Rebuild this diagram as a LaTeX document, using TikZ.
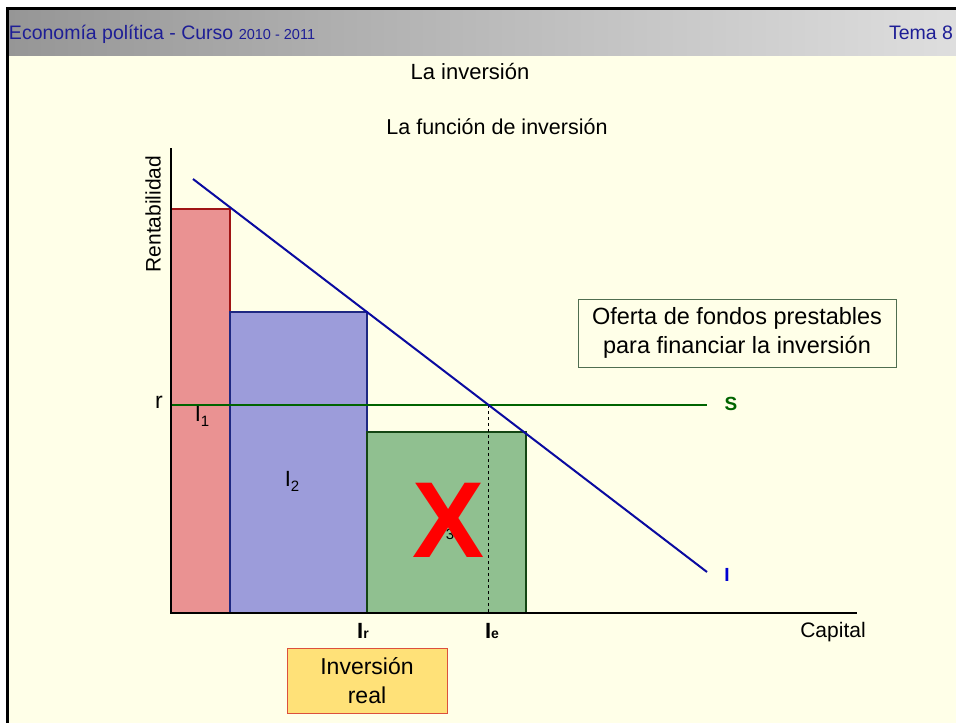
\documentclass[tikz,border=0pt]{standalone}
\usepackage{fontspec}
\setmainfont{Liberation Sans}
\definecolor{bg}{RGB}{255,255,232}
\definecolor{hdrblue}{RGB}{30,30,150}
\definecolor{iblue}{RGB}{10,10,160}
\definecolor{ilabel}{RGB}{0,0,210}
\definecolor{sgreen}{RGB}{0,100,0}
\definecolor{redfill}{RGB}{234,146,146}
\definecolor{redline}{RGB}{160,20,20}
\definecolor{bluefill}{RGB}{156,156,218}
\definecolor{blueline}{RGB}{30,40,130}
\definecolor{greenfill}{RGB}{144,192,144}
\definecolor{greenline}{RGB}{20,70,20}
\definecolor{boxfill}{RGB}{255,225,120}
\definecolor{boxline}{RGB}{220,80,60}
\definecolor{oferline}{RGB}{80,110,80}
\newcommand\fsz[1]{\fontsize{#1}{#1}\selectfont}
\newcommand\subsc[1]{\raisebox{-5pt}{\fsz{15}#1}}
\begin{document}
\begin{tikzpicture}[x=1pt,y=-1pt,
  txt/.style={inner sep=0pt, outer sep=0pt},
  barbox/.style={line width=1.2pt},
  axisline/.style={line width=1.1pt, black},
  lbl/.style={inner sep=0pt, font=\fsz{21}}]
\useasboundingbox (0,0) rectangle (956,723);
% page
\fill[white] (0,0) rectangle (956,723);
\fill[bg] (8,55) rectangle (956,723);
\shade[left color={rgb,255:red,150;green,150;blue,150}, middle color={rgb,255:red,205;green,205;blue,205}, right color={rgb,255:red,222;green,222;blue,222}] (8,9) rectangle (956,55);
\draw[line width=3pt, black] (956,8) -- (7.5,8) -- (7.5,723);
% header
\node[txt, anchor=base west, text=hdrblue] (hdr) at (9,39) {\fsz{19.5}Economía política - Curso \fsz{14.5}2010 - 2011};
\node[txt, anchor=base east, text=hdrblue] (tema) at (953,39) {\fsz{19.5}Tema 8};
% titles
\node[txt] (title) at (470,72) {\fsz{22}La inversión};
\node[txt] (subtitle) at (497,127) {\fsz{21.5}La función de inversión};
% coordinates
\coordinate (O) at (171,613);
\coordinate (ytop) at (171,148);
\coordinate (xend) at (857,613);
% bars
\draw[barbox, fill=redfill, draw=redline] (171,613) rectangle (230,209);
\draw[barbox, fill=bluefill, draw=blueline] (230,613) rectangle (367,312);
\draw[barbox, fill=greenfill, draw=greenline] (367,613) rectangle (526,432);
% S line
\coordinate (s0) at (171,405);
\coordinate (s1) at (707,405);
\draw[sgreen, line width=2pt] (s0) -- (s1);
% dashed
\coordinate (e0) at (488.5,405);
\coordinate (e1) at (488.5,613);
\draw[dashed, line width=0.8pt] (e0) -- (e1);
% I line
\coordinate (i0) at (193,179);
\coordinate (i1) at (707,572);
\draw[iblue, line width=2pt] (i0) -- (i1);
% axes
\draw[axisline] (ytop) -- (O) -- (xend);
% labels
\node[lbl, rotate=90] (rent) at (153,214) {Rentabilidad};
\node[txt] (r) at (159,402) {\fsz{23}r};
\node[txt] (I1) at (202,416) {\fsz{22}I\subsc{1}};
\node[txt] (I2) at (292,481) {\fsz{22}I\subsc{2}};
\node[txt] (I3) at (447,529) {\fsz{22}I\subsc{3}};
\node[txt, text=red] (X) at (449,520) {\fsz{108}\bfseries X};
\node[txt, text=sgreen] (S) at (731,404) {\fsz{19}\bfseries S};
\node[txt, text=ilabel] (I) at (727,575) {\fsz{19}\bfseries I};
\node[txt, anchor=base] (Ir) at (363,638) {\fsz{22}\bfseries I\fsz{14}r};
\node[txt, anchor=base] (Ie) at (492,638) {\fsz{22}\bfseries I\fsz{14}e};
\node[txt] (cap) at (833,632) {\fsz{21}Capital};
% boxes
\node[draw=oferline, line width=1pt, fill=bg, minimum width=318pt, minimum height=68pt, align=center, inner sep=0pt, font=\fontsize{23.5}{29}\selectfont] (oferta) at (737,333) {Oferta de fondos prestables\\para financiar la inversión};
\node[draw=boxline, line width=1pt, fill=boxfill, minimum width=160pt, minimum height=65pt, align=center, inner sep=0pt, font=\fontsize{23}{29}\selectfont] (invreal) at (367,680.5) {Inversión\\real};
\end{tikzpicture}
\end{document}
